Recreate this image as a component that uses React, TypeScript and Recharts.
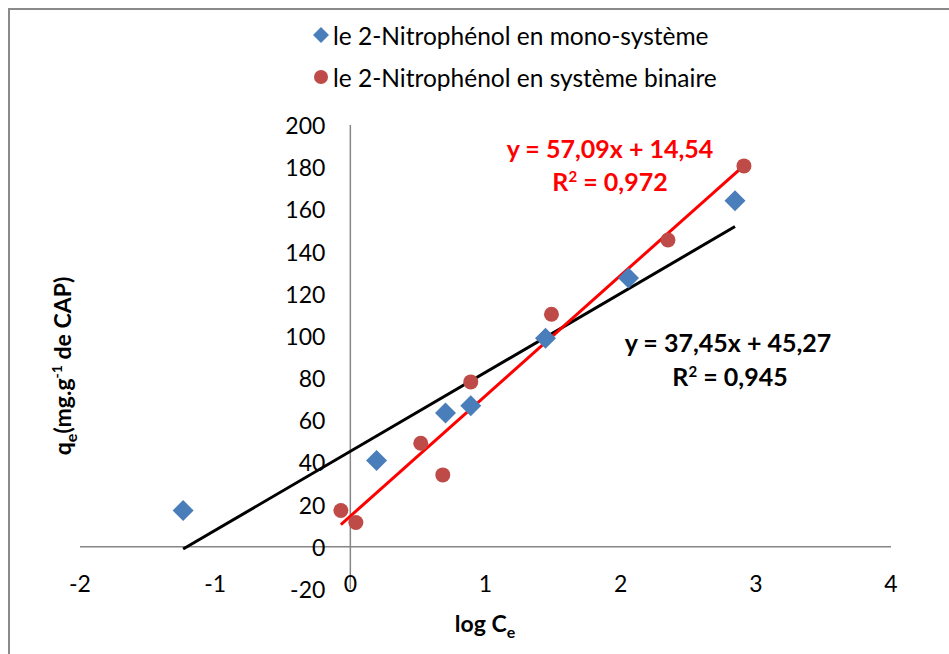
import React from 'react';
import { ScatterChart, Scatter, XAxis, YAxis, ReferenceLine, Legend } from 'recharts';

// Isotherme de Temkin : qe en fonction de log Ce
const monoLogCe = [-1.237, 0.194, 0.704, 0.891, 1.444, 2.058, 2.846];
const monoQe = [17.2, 40.9, 63.4, 66.9, 98.9, 127.4, 164.1];

const binLogCe = [-0.07, 0.041, 0.521, 0.684, 0.891, 1.488, 2.35, 2.912];
const binQe = [17.2, 11.5, 49.1, 34.1, 78.2, 110.3, 145.5, 180.6];

const xTicks = [-2, -1, 0, 1, 2, 3, 4];
const yTicks = [-20, 0, 20, 40, 60, 80, 100, 120, 140, 160, 180, 200];

const monoName = 'le 2-Nitrophénol en mono-système';
const binName = 'le 2-Nitrophénol en système binaire';

// Droites de régression linéaire
const monoFit = { slope: 37.45, intercept: 45.27, eq: 'y = 37,45x + 45,27', r2: '0,945' };
const binFit = { slope: 57.09, intercept: 14.54, eq: 'y = 57,09x + 14,54', r2: '0,972' };

const W = 949;
const H = 654;
const X_AXIS_H = 30;
const Y_AXIS_W = 30;
const MARGIN = { top: 125, right: 58, bottom: 65 - X_AXIS_H, left: 80 - Y_AXIS_W };
const X_DOMAIN: [number, number] = [-2, 4];
const Y_DOMAIN: [number, number] = [-20, 200];
const FONT = 'Lato, "Noto Sans", sans-serif';

const BLUE = '#4a7ebb';
const RED = '#be4b48';
const AXIS = '#868686';

const monoData = monoLogCe.map((x, i) => ({ x, y: monoQe[i] }));
const binData = binLogCe.map((x, i) => ({ x, y: binQe[i] }));

const fitSegment = (xs: number[], fit: { slope: number; intercept: number }) => {
  const x1 = Math.min(...xs);
  const x2 = Math.max(...xs);
  return [
    { x: x1, y: fit.slope * x1 + fit.intercept },
    { x: x2, y: fit.slope * x2 + fit.intercept },
  ];
};

const plotLeft = MARGIN.left + Y_AXIS_W;
const plotW = W - plotLeft - MARGIN.right;
const yAxisCrossX = plotLeft + ((0 - X_DOMAIN[0]) / (X_DOMAIN[1] - X_DOMAIN[0])) * plotW;
const xLabelY = H - MARGIN.bottom - X_AXIS_H - 6;

const XTick = (props: any) => (
  <text x={props.x} y={xLabelY} textAnchor="middle" dominantBaseline="central" fontFamily={FONT} fontSize={23} fill="#000">
    {props.payload.value}
  </text>
);

const YTick = (props: any) => (
  <text x={yAxisCrossX - 25} y={props.y} textAnchor="end" dominantBaseline="central" fontFamily={FONT} fontSize={23} fill="#000">
    {props.payload.value}
  </text>
);

const Diamond = (props: any) => {
  const { cx, cy } = props;
  const r = 10.5;
  return <polygon points={`${cx},${cy - r} ${cx + r},${cy} ${cx},${cy + r} ${cx - r},${cy}`} fill={BLUE} />;
};

const Dot = (props: any) => <circle cx={props.cx} cy={props.cy} r={7.5} fill={RED} />;

const LegendContent = (props: any) => {
  const items = props.payload || [];
  return (
    <div style={{ fontFamily: FONT, fontSize: 24.5, color: '#000' }}>
      {items.map((it: any) => (
        <div key={it.value} style={{ display: 'flex', alignItems: 'center', height: 42, whiteSpace: 'nowrap' }}>
          <svg width={18} height={18} style={{ marginRight: 3 }}>
            {it.type === 'diamond' ? (
              <polygon points="9,1 17,9 9,17 1,9" fill={BLUE} />
            ) : (
              <circle cx={9} cy={9} r={7} fill={RED} />
            )}
          </svg>
          <span>{it.value}</span>
        </div>
      ))}
    </div>
  );
};

export default function App() {
  return (
    <div style={{ position: 'absolute', left: 0, top: 0, width: W, height: H, overflow: 'hidden', background: '#fff' }}>
      <div
        style={{
          position: 'absolute',
          left: 8,
          top: 8,
          width: W + 20,
          height: H + 20,
          border: '2px solid #8a8a8a',
          boxSizing: 'border-box',
        }}
      />
      <div style={{ position: 'absolute', left: 0, top: 0 }}>
        <ScatterChart width={W} height={H} margin={MARGIN}>
          <XAxis
            type="number"
            dataKey="x"
            domain={X_DOMAIN}
            ticks={xTicks}
            interval={0}
            axisLine={false}
            tickLine={false}
            height={X_AXIS_H}
            tick={XTick}
            allowDataOverflow
          />
          <YAxis
            type="number"
            dataKey="y"
            domain={Y_DOMAIN}
            ticks={yTicks}
            interval={0}
            axisLine={false}
            tickLine={false}
            width={Y_AXIS_W}
            tick={YTick}
            allowDataOverflow
          />
          <ReferenceLine y={0} stroke={AXIS} strokeWidth={1.5} />
          <ReferenceLine x={0} stroke={AXIS} strokeWidth={1.5} />
          <ReferenceLine segment={fitSegment(monoLogCe, monoFit)} stroke="#000" strokeWidth={3} ifOverflow="visible" />
          <ReferenceLine segment={fitSegment(binLogCe, binFit)} stroke="#ff0000" strokeWidth={3} ifOverflow="visible" />
          <Scatter name={monoName} data={monoData} fill={BLUE} legendType="diamond" shape={<Diamond />} isAnimationActive={false} />
          <Scatter name={binName} data={binData} fill={RED} legendType="circle" shape={<Dot />} isAnimationActive={false} />
          <Legend
            layout="horizontal"
            verticalAlign="middle"
            align="center"
            content={<LegendContent />}
            wrapperStyle={{ position: 'absolute', top: 14, left: 312, width: 'auto' }}
          />
        </ScatterChart>
      </div>
      <svg width={W} height={H} style={{ position: 'absolute', left: 0, top: 0, pointerEvents: 'none' }}>
        <g fontFamily={FONT} fontWeight="bold">
          <text x={610} y={158} textAnchor="middle" fontSize={25} fill="#ff0000">{binFit.eq}</text>
          <text x={610} y={191} textAnchor="middle" fontSize={25} fill="#ff0000">
            R<tspan dy={-9} fontSize={15}>2</tspan><tspan dy={9}>{' = ' + binFit.r2}</tspan>
          </text>
          <text x={728} y={352} textAnchor="middle" fontSize={25} fill="#000">{monoFit.eq}</text>
          <text x={730} y={386} textAnchor="middle" fontSize={25} fill="#000">
            R<tspan dy={-9} fontSize={15}>2</tspan><tspan dy={9}>{' = ' + monoFit.r2}</tspan>
          </text>
          <text x={485} y={632} textAnchor="middle" fontSize={23} fill="#000">
            log C<tspan dy={6} fontSize={16}>e</tspan>
          </text>
          <text transform="translate(71 366) rotate(-90)" textAnchor="middle" fontSize={23} fill="#000">
            q<tspan dy={6} fontSize={16}>e</tspan>
            <tspan dy={-6}>(mg.g</tspan>
            <tspan dy={-9} fontSize={14}>-1</tspan>
            <tspan dy={9}> de CAP)</tspan>
          </text>
        </g>
      </svg>
    </div>
  );
}
